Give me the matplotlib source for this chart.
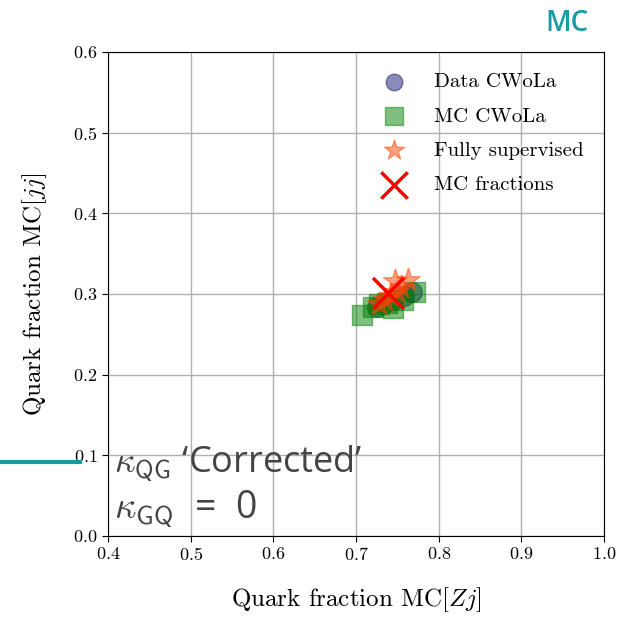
import matplotlib.pyplot as plt
from matplotlib.lines import Line2D

plt.rcParams['font.family'] = 'serif'
plt.rcParams['font.serif'] = ['cmr10']
plt.rcParams['mathtext.fontset'] = 'cm'
plt.rcParams['axes.formatter.use_mathtext'] = True

# Data CWoLa
data_x = [0.725, 0.735, 0.745, 0.758, 0.768]
data_y = [0.284, 0.289, 0.293, 0.298, 0.302]
# MC CWoLa
mc_x = [0.707, 0.720, 0.728, 0.738, 0.745, 0.757, 0.771]
mc_y = [0.274, 0.284, 0.287, 0.289, 0.283, 0.293, 0.302]
# Fully supervised
sup_x = [0.728, 0.735, 0.742, 0.750, 0.747, 0.763, 0.755]
sup_y = [0.288, 0.292, 0.297, 0.303, 0.316, 0.317, 0.309]
# MC fractions
frac_x = [0.739]
frac_y = [0.301]

fig = plt.figure(figsize=(6.21, 6.18), dpi=100)
ax = fig.add_axes([108 / 621, (618 - 536) / 618, 496 / 621, 484 / 618])

ax.scatter(data_x, data_y, s=200, marker='o', color='midnightblue', alpha=0.5, label='Data CWoLa', zorder=3)
ax.scatter(mc_x, mc_y, s=220, marker='s', color='green', alpha=0.5, label='MC CWoLa', zorder=3)
ax.scatter(sup_x, sup_y, s=320, marker='*', color='orangered', alpha=0.5, label='Fully supervised', zorder=4)
ax.scatter(frac_x, frac_y, s=500, marker='x', color='red', linewidths=2.5, label='MC fractions', zorder=5)

ax.set_xlim(0.4, 1.0)
ax.set_ylim(0.0, 0.6)
ax.set_xticks([0.4, 0.5, 0.6, 0.7, 0.8, 0.9, 1.0])
ax.set_yticks([0.0, 0.1, 0.2, 0.3, 0.4, 0.5, 0.6])
ax.tick_params(labelsize=13, direction='out', length=4)
ax.grid(True, color='#b0b0b0', linewidth=1)
ax.set_axisbelow(True)
ax.set_xlabel(r'Quark fraction MC$[Zj]$', fontsize=18, labelpad=16)
ax.set_ylabel(r'Quark fraction MC$[jj]$', fontsize=18, labelpad=17)

ax.legend(loc='upper right', frameon=False, fontsize=15, markerscale=0.85,
          handletextpad=0.9, borderaxespad=0.6, labelspacing=0.75)

ax.text(0.013, 0.13, r"$\kappa_{\mathsf{QG}}$ ‘Corrected’", transform=ax.transAxes,
        fontsize=26, color='#444444', family='Open Sans')
ax.text(0.013, 0.035, r"$\kappa_{\mathsf{GQ}}$  =  0", transform=ax.transAxes,
        fontsize=27, color='#444444', family='Open Sans')

fig.add_artist(Line2D([0, 80 / 621], [1 - 462 / 618, 1 - 462 / 618], color='#1a9aa5', linewidth=3))
fig.text(0.913, 0.962, 'MC', color='#1a9aa5', fontsize=20, fontweight='semibold',
         family='Open Sans', ha='center', va='center')

fig.savefig('out.png', dpi=100)
